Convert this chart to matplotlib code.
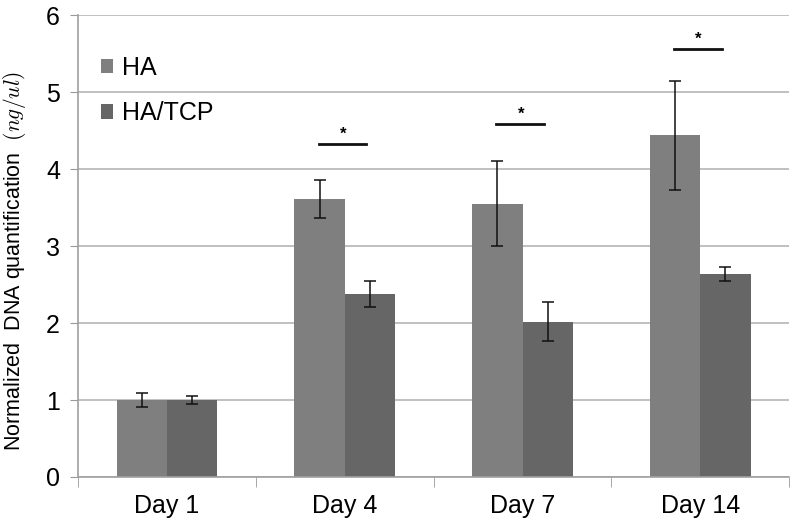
import numpy as np
import matplotlib
matplotlib.use('Agg')
import matplotlib.pyplot as plt

plt.rcParams['font.family'] = ['Liberation Sans', 'DejaVu Sans']
plt.rcParams['mathtext.fontset'] = 'cm'

DAYS = ['Day 1', 'Day 4', 'Day 7', 'Day 14']
HA = [1.0, 3.61, 3.55, 4.44]
HA_ERR = [0.09, 0.25, 0.55, 0.71]
HATCP = [1.0, 2.38, 2.02, 2.64]
HATCP_ERR = [0.05, 0.17, 0.25, 0.09]
# significance bars: (group index, bar height)
SIG = [(1, 4.32), (2, 4.59), (3, 5.56)]

fig = plt.figure(figsize=(7.92, 5.23), dpi=100)
ax = fig.add_axes([0.0985, 0.088, 0.898, 0.883])

x = np.arange(len(DAYS))
w = 0.283
ax.bar(x - w/2, HA, w, color='#7f7f7f', label='HA', zorder=2)
ax.bar(x + w/2, HATCP, w, color='#666666', label='HA/TCP', zorder=2)
ax.errorbar(x - w/2, HA, yerr=HA_ERR, fmt='none', ecolor='#111111', elinewidth=1.1,
            capsize=4, capthick=1.1, zorder=3)
ax.errorbar(x + w/2, HATCP, yerr=HATCP_ERR, fmt='none', ecolor='#111111', elinewidth=1.1,
            capsize=4, capthick=1.1, zorder=3)

for i, h in SIG:
    ax.plot([i - w/2 - 0.005, i + w/2 - 0.02], [h, h], color='#111111', lw=2, zorder=3)
    ax.text(i - 0.01, h + 0.03, '*', ha='center', va='bottom', fontsize=12, fontweight='bold')

ax.set_xlim(-0.5, 3.5)
ax.set_ylim(0, 6)
ax.set_yticks(range(0, 7))
ax.set_xticks(x)
ax.set_xticklabels(DAYS)
ax.set_xticks(np.arange(-0.5, 4.0, 1.0), minor=True)
ax.tick_params(axis='x', which='major', length=0, labelsize=18, pad=12)
ax.tick_params(axis='x', which='minor', length=7, color='#999999', direction='out')
ax.tick_params(axis='y', length=6, color='#999999', labelsize=18, pad=7)
ax.yaxis.grid(True, color='#b5b5b5', lw=1.2, zorder=0)
ax.set_axisbelow(True)
for s in ['top', 'right']:
    ax.spines[s].set_visible(False)
for s in ['left', 'bottom']:
    ax.spines[s].set_color('#a0a0a0')
    ax.spines[s].set_linewidth(1.2)

fig.text(0.018, 0.50, 'Normalized  DNA quantification  $(ng/ul)$', rotation=90,
         ha='center', va='center', fontsize=15.5)

leg = ax.legend(loc='upper left', bbox_to_anchor=(0.0, 0.96), frameon=False, fontsize=18,
                handlelength=0.5, handleheight=0.5, handletextpad=0.35, labelspacing=0.85,
                borderaxespad=0.5)

fig.savefig('out.png', dpi=100)
